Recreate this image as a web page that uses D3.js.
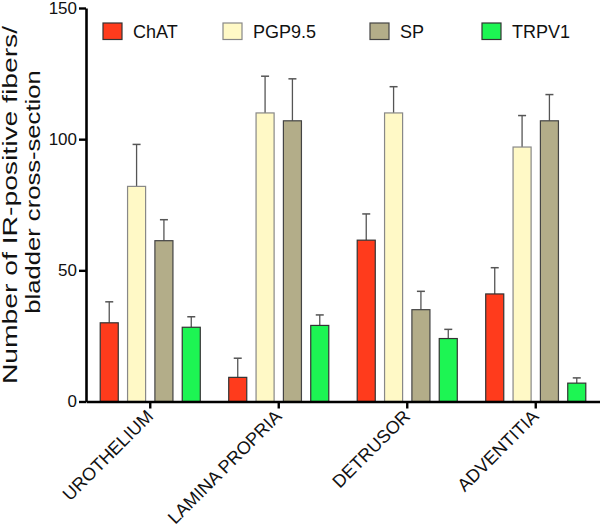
<!DOCTYPE html>
<html>
<head>
<meta charset="utf-8">
<script src="https://cdn.jsdelivr.net/npm/d3@7"></script>
<style>
  body { margin: 0; background: #fff; }
  text { font-family: "Liberation Sans", Arial, sans-serif; }
</style>
</head>
<body>
<script>
// data
var regions = ["UROTHELIUM", "LAMINA PROPRIA", "DETRUSOR", "ADVENTITIA"];
var markers = ["ChAT", "PGP9.5", "SP", "TRPV1"];
var chat     = [30, 9.2, 61.5, 41];
var chatErr  = [8, 7.3, 10, 10];
var pgp      = [82, 110, 110, 97];
var pgpErr   = [16, 14, 10, 12];
var sp       = [61.3, 107, 35, 107];
var spErr    = [8, 16, 7, 10];
var trpv1    = [28.3, 29, 24, 7];
var trpv1Err = [4, 4, 3.5, 2];
var yTicks = [0, 50, 100, 150];
var yTitle = ["Number of IR-positive fibers/", "bladder cross-section"];

var colors  = ["#ff3b1c", "#fff9c6", "#b3ad89", "#1df553"];
var strokes = ["#333", "#888", "#444", "#333"];

var width = 600, height = 531;
var series = [chat, pgp, sp, trpv1];
var errs = [chatErr, pgpErr, spErr, trpv1Err];

var svg = d3.select("body").append("svg")
    .attr("width", width)
    .attr("height", height);

var x0 = d3.scaleBand().domain(regions).range([86, 600]);
var x1 = d3.scaleBand().domain(markers).range([0, x0.bandwidth()])
    .paddingInner(0.34).paddingOuter(0.52);
var y = d3.scaleLinear().domain([0, 150]).range([401.5, 8]);

// bars + error bars (only the upper half is drawn, like the original)
var groups = svg.selectAll("g.grp")
    .data(regions)
    .enter().append("g")
    .attr("class", "grp")
    .attr("transform", function(d) { return "translate(" + x0(d) + ",0)"; });

groups.each(function(r, i) {
    var g = d3.select(this);
    markers.forEach(function(m, k) {
        var v = series[k][i], e = errs[k][i];
        var bx = x1(m), bw = x1.bandwidth();
        g.append("line")
            .attr("x1", bx + bw / 2).attr("x2", bx + bw / 2)
            .attr("y1", y(v)).attr("y2", y(v + e))
            .attr("stroke", "#555").attr("stroke-width", 1.3);
        g.append("line")
            .attr("x1", bx + bw / 2 - 4).attr("x2", bx + bw / 2 + 4)
            .attr("y1", y(v + e)).attr("y2", y(v + e))
            .attr("stroke", "#555").attr("stroke-width", 1.5);
        g.append("rect")
            .attr("x", bx)
            .attr("y", y(v))
            .attr("width", bw)
            .attr("height", y(0) - y(v))
            .attr("fill", colors[k])
            .attr("stroke", strokes[k])
            .attr("stroke-width", 1.2);
    });
});

// y axis
var yAxis = svg.append("g")
    .attr("transform", "translate(86,0)")
    .call(d3.axisLeft(y).tickValues(yTicks).tickSize(7).tickSizeOuter(0).tickPadding(2));
yAxis.select(".domain").attr("stroke", "#000").attr("stroke-width", 2.6);
yAxis.selectAll(".tick line").attr("stroke", "#000").attr("stroke-width", 2.4);
yAxis.selectAll(".tick text")
    .attr("font-size", 17)
    .attr("fill", "#111")
    .style("font-family", "'Liberation Sans', Arial, sans-serif");

// x axis
var xAxis = svg.append("g")
    .attr("transform", "translate(0," + y(0) + ")")
    .call(d3.axisBottom(x0).tickSize(7).tickSizeOuter(0));
xAxis.select(".domain").attr("stroke", "#000").attr("stroke-width", 2.6);
xAxis.selectAll(".tick line").attr("stroke", "#000").attr("stroke-width", 2.4);
xAxis.selectAll(".tick text")
    .attr("font-size", 18)
    .attr("fill", "#111")
    .attr("text-anchor", "end")
    .attr("x", 4)
    .attr("y", 16)
    .attr("dy", 0)
    .attr("transform", "rotate(-45,4,16)")
    .style("font-family", "'Liberation Sans', Arial, sans-serif");

// y title - the original lettering is stretched along its length
svg.append("text")
    .attr("transform", "translate(17,205) rotate(-90) scale(1.38,1)")
    .attr("text-anchor", "middle")
    .attr("font-size", 20.5)
    .attr("fill", "#111")
    .text(yTitle[0]);
svg.append("text")
    .attr("transform", "translate(40,192) rotate(-90) scale(1.25,1)")
    .attr("text-anchor", "middle")
    .attr("font-size", 20.5)
    .attr("fill", "#111")
    .text(yTitle[1]);

// legend
var legX = [103, 223, 370, 482];
var leg = svg.selectAll("g.leg")
    .data(markers)
    .enter().append("g")
    .attr("class", "leg")
    .attr("transform", function(d, i) { return "translate(" + legX[i] + ",23)"; });
leg.append("rect")
    .attr("width", 19).attr("height", 16.5)
    .attr("fill", function(d, i) { return colors[i]; })
    .attr("stroke", function(d, i) { return strokes[i]; })
    .attr("stroke-width", 1.2);
leg.append("text")
    .attr("x", 30).attr("y", 14.5)
    .attr("font-size", 18)
    .attr("fill", "#111")
    .text(function(d) { return d; });
</script>
</body>
</html>
